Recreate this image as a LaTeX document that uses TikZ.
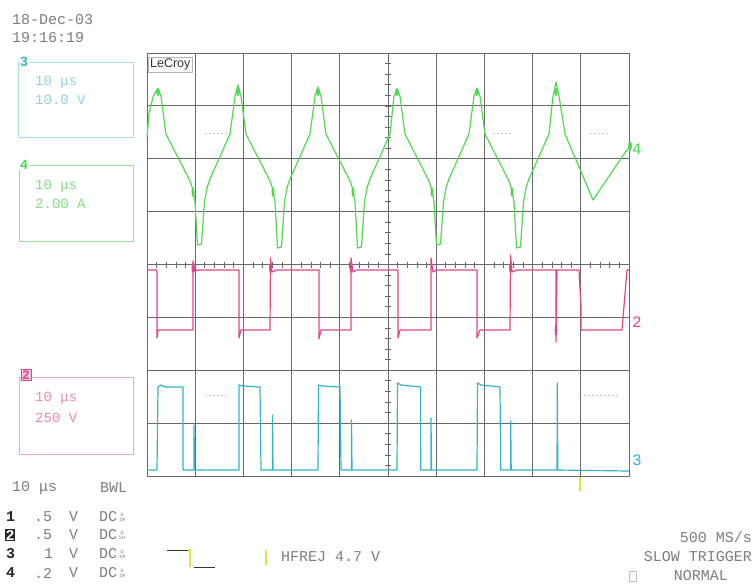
\documentclass[tikz,border=0pt]{standalone}
\usepackage{fontspec}
\newfontfamily\osmono{Liberation Mono}
\newfontfamily\logofont{Liberation Sans}
\definecolor{grn}{HTML}{52D852}
\definecolor{pnk}{HTML}{E0468E}
\definecolor{cyn}{HTML}{33B5C8}
\definecolor{gridc}{HTML}{686868}
\definecolor{txtg}{HTML}{7E7E7E}
\definecolor{cynl}{HTML}{A6DCE8}
\definecolor{grnl}{HTML}{96E496}
\definecolor{pnkl}{HTML}{F0A6C8}
\definecolor{ylw}{HTML}{E6E040}
\begin{document}
\begin{tikzpicture}[x=1pt,y=-1pt,
  txt/.style={font=\osmono\fontsize{15}{15}\selectfont, text=txtg, inner sep=0pt, anchor=west},
  btxt/.style={font=\osmono\fontsize{15}{15}\selectfont, text=txtg, inner sep=0pt, anchor=east},
  chnum/.style={font=\osmono\bfseries\fontsize{15}{15}\selectfont, text=black!85, inner sep=0pt, anchor=west},
  boxtxt/.style={font=\osmono\fontsize{14}{14}\selectfont, inner sep=0pt, anchor=west},
  tiny2/.style={font=\osmono\fontsize{5}{5}\selectfont, text=txtg, inner sep=0pt, align=center},
  gridline/.style={draw=gridc, line width=0.8pt},
  tracegreen/.style={draw=grn, line width=1.2pt, line join=round},
  tracepink/.style={draw=pnk, line width=1.2pt, line join=round},
  tracecyan/.style={draw=cyn, line width=1.2pt, line join=round},
  ghost/.style={draw=gray!45, line width=0.6pt, dash pattern=on 1.5pt off 2.5pt}
]
\useasboundingbox (0,0) rectangle (754,587);
\fill[white] (0,0) rectangle (754,587);

% ---- grid ----
\foreach \i in {1,...,9} \draw[gridline] (147+\i*48.2,53) -- (147+\i*48.2,476);
\foreach \j in {1,...,7} \draw[gridline] (147,53+\j*52.875) -- (629,53+\j*52.875);
\draw[gridline] (147,53) rectangle (629,476);
\foreach \i in {1,...,49} \draw[gridc, line width=0.7pt] (147+\i*9.64,261.5) -- (147+\i*9.64,267.5);
\foreach \j in {1,...,39} \draw[gridc, line width=0.7pt] (385,53+\j*10.575) -- (391,53+\j*10.575);

% faint ghost marks
\draw[ghost] (205,133) -- (228,133);
\draw[ghost] (493,133) -- (513,133);
\draw[ghost] (590,133) -- (610,133);
\draw[ghost] (205,395) -- (228,395);
\draw[ghost] (580,395) -- (620,395);

% LeCroy logo
\node[draw=gray!60, line width=0.6pt, font=\logofont\fontsize{12.5}{12.5}\selectfont, text=black!80, inner sep=1.8pt, anchor=north west] (logo) at (148,57) {LeCroy};

% ---- green trace (ch4) ----
\draw[tracegreen] (147,137) -- (149,113) -- (153,97) -- (156,91) -- (158,89) -- (161,96) -- (166,134) -- (190,181) -- (193,190) -- (195,202) -- (197.5,245) -- (201.5,244) -- (204.5,202) -- (207,188) -- (210,179) -- (230,134) -- (235,96) -- (238,85)
 -- (241,96) -- (246,134) -- (270,181) -- (273,190) -- (275,202) -- (277.5,248) -- (281.5,247) -- (284.5,202) -- (287,188) -- (290,179) -- (310,134) -- (315,96) -- (318,87)
 -- (321,96) -- (326,134) -- (350,181) -- (353,190) -- (355,202) -- (357.5,248) -- (361.5,247) -- (364.5,202) -- (367,188) -- (370,179) -- (390,134) -- (394,96) -- (397,90)
 -- (400,96) -- (405,134) -- (429,181) -- (432,190) -- (434,202) -- (436.5,245) -- (440.5,244) -- (443.5,202) -- (446,188) -- (449,179) -- (469,134) -- (474,96) -- (477,88)
 -- (480,96) -- (485,134) -- (509,181) -- (512,190) -- (514,202) -- (516.5,248) -- (520.5,247) -- (523.5,202) -- (526,188) -- (529,179) -- (549,134) -- (553,96) -- (556,82)
 -- (559,96) -- (565,134) -- (593,200) -- (622,157) -- (630,146);
\foreach \p in {158,238,318,397,477,556} \fill[grn] (\p,92) ellipse (1.8pt and 4pt);
\foreach \p in {193,273,353,432,512} \fill[grn] (\p,192) ellipse (1.5pt and 5pt);
\fill[grn] (630,146) ellipse (2pt and 5pt);

% ---- pink trace (ch2) ----
\draw[tracepink] (147,270) -- (157,270) -- (157,338) -- (158,330) -- (193,330) -- (193,261) -- (195,272) -- (197,270) -- (239,270) -- (239,338) -- (241,330) -- (270,330) -- (270.5,258) -- (272,272) -- (277,270) -- (319,270) -- (319,339) -- (321,330) -- (351,330) -- (351,258) -- (353,272) -- (357,270) -- (398,270) -- (398,338) -- (400,330) -- (431,330) -- (431,258) -- (433,272) -- (437,270) -- (477,270) -- (477,338) -- (480,330) -- (510,330) -- (510.5,255) -- (512,272) -- (517,270) -- (556,270) -- (556,342) -- (557,270) -- (579,270) -- (581,307) -- (581,330) -- (622,330) -- (627,270) -- (629,270);
\foreach \p in {193,270.5,351,510.5} \fill[pnk] (\p,268) ellipse (1.5pt and 5pt);
\fill[pnk] (556,330) ellipse (1.3pt and 6pt);

% ---- cyan trace (ch3) ----
\draw[tracecyan] (147,470) -- (157,470) -- (158,387) -- (161,385) -- (165,387) -- (183,387) -- (183,470) -- (194,470) -- (194,425) -- (194.5,470) -- (239,470) -- (239,385) -- (243,386) -- (260,387) -- (261,470) -- (272.5,470) -- (272.5,415) -- (273,470) -- (318,470) -- (318.5,385) -- (322,386) -- (340,387) -- (341,470) -- (351.5,470) -- (351.5,420) -- (352,470) -- (397,470) -- (397.5,383) -- (401,385) -- (420.5,387) -- (420.7,470) -- (431,470) -- (431,418) -- (431.5,470) -- (477,470) -- (477.5,383) -- (481,385) -- (500,387) -- (500.7,470) -- (510.7,470) -- (510.7,421) -- (511.2,470) -- (557,470) -- (557.3,383) -- (557.8,470) -- (629,471);

% trigger marker
\draw[ylw, line width=2pt] (580,477) -- (580,491);

% right channel labels
\node[font=\osmono\fontsize{16}{16}\selectfont, text=grn, inner sep=0pt, anchor=west] (r4) at (632,149) {4};
\node[font=\osmono\fontsize{16}{16}\selectfont, text=pnk, inner sep=0pt, anchor=west] (r2) at (632,322) {2};
\node[font=\osmono\fontsize{16}{16}\selectfont, text=cyn, inner sep=0pt, anchor=west] (r3) at (632,460) {3};

% ---- date ----
\node[txt] (date) at (12,20) {18-Dec-03};
\node[txt] (time) at (12,38) {19:16:19};

% ---- channel boxes ----
\draw[cynl, line width=1pt] (18,62) rectangle (133,137);
\node[font=\osmono\bfseries\fontsize{14}{14}\selectfont, text=cyn, inner sep=0.5pt, fill=white] (b3) at (24,62) {3};
\node[boxtxt, text=cynl!80!cyn] (b3a) at (35,82) {10 μs};
\node[boxtxt, text=cynl!80!cyn] (b3b) at (35,100) {10.0 V};

\draw[grnl, line width=1pt] (19,165) rectangle (133,241);
\node[font=\osmono\bfseries\fontsize{14}{14}\selectfont, text=grn, inner sep=0.5pt, fill=white] (b4) at (24,165) {4};
\node[boxtxt, text=grnl!70!grn] (b4a) at (35,186) {10 μs};
\node[boxtxt, text=grnl!70!grn] (b4b) at (35,204) {2.00 A};

\draw[pnkl, line width=1pt] (19,377) rectangle (133,454);
\node[draw=pnk, fill=pnkl!60, font=\osmono\bfseries\fontsize{13}{13}\selectfont, text=pnk, inner sep=1pt] (b2) at (26,375) {2};
\node[boxtxt, text=pnkl!70!pnk] (b2a) at (35,398) {10 μs};
\node[boxtxt, text=pnkl!70!pnk] (b2b) at (35,418) {250 V};

% ---- bottom-left readout ----
\node[txt] (tb) at (12,488) {10 μs};
\node[txt] (bwl) at (100,488) {BWL};

\node[chnum] (c1) at (6,517) {1};
\node[txt] (c1v) at (34,517) {.5};
\node[txt] (c1u) at (69,517) {V};
\node[txt] (c1d) at (99,517) {DC};
\node[tiny2] (c1t) at (122,517) {Ω\\1M};

\node[fill=black!85, text=white, font=\osmono\bfseries\fontsize{15}{15}\selectfont, inner sep=0.5pt, anchor=west] (c2) at (5,535) {2};
\node[txt] (c2v) at (34,535) {.5};
\node[txt] (c2u) at (69,535) {V};
\node[txt] (c2d) at (99,535) {DC};
\node[tiny2] (c2t) at (122,535) {Ω\\50};

\node[chnum] (c3) at (6,554) {3};
\node[txt] (c3v) at (44,554) {1};
\node[txt] (c3u) at (69,554) {V};
\node[txt] (c3d) at (99,554) {DC};
\node[tiny2] (c3t) at (122,554) {Ω\\1M};

\node[chnum] (c4) at (6,573) {4};
\node[txt] (c4v) at (34,573) {.2};
\node[txt] (c4u) at (69,573) {V};
\node[txt] (c4d) at (99,573) {DC};
\node[tiny2] (c4t) at (122,573) {Ω\\1M};

% trigger icon
\coordinate (t1) at (167,550);
\coordinate (t2) at (188,550);
\coordinate (t3) at (190,567);
\coordinate (t4) at (215,567);
\draw[black!80, line width=0.9pt] (t1) -- (t2);
\draw[ylw, line width=1.3pt] (t2) -- (190,550) -- (t3);
\draw[black!80, line width=0.9pt] (194,567) -- (t4);
\draw[ylw, line width=2pt] (266,550) -- (266,565);
\node[txt] (hfrej) at (281,557) {HFREJ 4.7 V};

% bottom-right
\node[btxt] (rate) at (752,537) {500 MS/s};
\node[btxt] (slow) at (752,557) {SLOW TRIGGER};
\node[btxt] (norm) at (728,576) {NORMAL};
\draw[gray!50, line width=0.6pt] (629,571) rectangle (636,581);
\end{tikzpicture}
\end{document}
